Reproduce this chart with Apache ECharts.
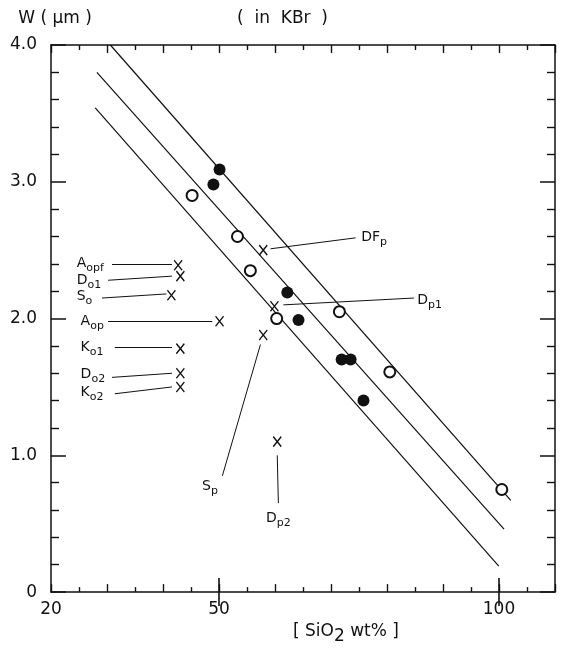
<!DOCTYPE html>
<html><head><meta charset="utf-8">
<script src="https://cdn.jsdelivr.net/npm/echarts@6/dist/echarts.min.js"></script>
<style>html,body{margin:0;padding:0;background:#fff}#c{width:570px;height:650px}</style>
</head><body><div id="c"></div>
<script>
// ---- data ----
const xTickLabels = [20, 50, 100];
const xMajorTicks = [50, 100];
const yTickLabels = [0, 1, 2, 3, 4];
const openCircles = [[45.2, 2.90], [53.3, 2.60], [55.6, 2.35], [60.3, 2.00], [71.5, 2.05], [80.5, 1.61], [100.5, 0.75]];
const filledCircles = [[50.1, 3.09], [49.0, 2.98], [62.2, 2.19], [64.2, 1.99], [71.9, 1.70], [73.5, 1.70], [75.8, 1.40]];
const crossNames = ['Aopf', 'Do1', 'So', 'Aop', 'Ko1', 'Do2', 'Ko2', 'DFp', 'Dp1', 'Sp', 'Dp2'];
const crossX = [42.7, 43.1, 41.5, 50.1, 43.1, 43.1, 43.1, 57.9, 59.9, 57.9, 60.4];
const crossY = [2.39, 2.31, 2.17, 1.98, 1.78, 1.60, 1.50, 2.50, 2.09, 1.88, 1.10];
const upperLine = [[30.6, 4.0], [102.1, 0.67]];
const middleLine = [[28.2, 3.80], [100.9, 0.46]];
const lowerLine = [[27.9, 3.54], [99.96, 0.19]];

// annotation texts: [main, subscript]
const annoText = [['A', 'opf'], ['D', 'o1'], ['S', 'o'], ['A', 'op'], ['K', 'o1'], ['D', 'o2'], ['K', 'o2'], ['DF', 'p'], ['D', 'p1'], ['S', 'p'], ['D', 'p2']];
// label anchor and leader line (data units)
const annoPos = [[24.5, 2.40], [24.5, 2.28], [24.5, 2.16], [25.2, 1.98], [25.2, 1.79], [25.2, 1.59], [25.2, 1.46], [75.3, 2.59], [85.3, 2.13], [48.4, 0.77], [60.6, 0.54]];
const annoCentered = [false, false, false, false, false, false, false, false, false, true, true];
const leaderFrom = [[30.9, 2.40], [30.2, 2.28], [29.1, 2.15], [30.2, 1.98], [31.4, 1.79], [30.9, 1.57], [31.4, 1.45], [59.2, 2.51], [61.5, 2.10], [57.4, 1.81], [60.4, 1.00]];
const leaderTo = [[41.6, 2.40], [41.6, 2.31], [40.6, 2.18], [48.8, 1.98], [41.6, 1.79], [41.6, 1.60], [41.6, 1.50], [74.4, 2.59], [84.8, 2.15], [50.6, 0.85], [60.6, 0.65]];

// ---- styling ----
const FONT = 'DejaVu Sans';
const INK = '#111';

function xAx(pos, labels) {
  return {
    type: 'value', position: pos, min: 20, max: 110, interval: 10,
    axisLine: { show: true, onZero: false, lineStyle: { color: INK, width: 1.5 } },
    axisTick: { show: true, inside: true, length: 8, lineStyle: { color: INK, width: 1.4 } },
    minorTick: { show: true, splitNumber: 2, length: 5, lineStyle: { color: INK, width: 1.4 } },
    axisLabel: { show: labels, customValues: xTickLabels, color: INK, fontFamily: FONT, fontSize: 17, margin: 9 },
    splitLine: { show: false }, minorSplitLine: { show: false }
  };
}
function xAxMajor(pos) {
  return {
    type: 'value', position: pos, min: 20, max: 110, interval: 10,
    axisLine: { show: false },
    axisTick: { show: true, inside: true, length: 14, customValues: xMajorTicks, lineStyle: { color: INK, width: 1.6 } },
    axisLabel: { show: false }, splitLine: { show: false }
  };
}
function yAx(pos, labels) {
  return {
    type: 'value', position: pos, min: 0, max: 4, interval: 1,
    axisLine: { show: true, onZero: false, lineStyle: { color: INK, width: 1.5 } },
    axisTick: { show: true, inside: true, length: 15, lineStyle: { color: INK, width: 1.5 } },
    minorTick: { show: true, splitNumber: 5, length: 8, lineStyle: { color: INK, width: 1.4 } },
    axisLabel: { show: labels, customValues: yTickLabels, color: INK, fontFamily: FONT, fontSize: 17, margin: 14,
      formatter: v => v === 0 ? '0' : v.toFixed(1) },
    splitLine: { show: false }, minorSplitLine: { show: false }
  };
}

const rich = {
  b: { fontFamily: FONT, fontSize: 14, color: INK },
  s: { fontFamily: FONT, fontSize: 11, color: INK, padding: [9, 0, 0, 0] }
};

const lineSeries = [upperLine, middleLine, lowerLine].map(d => ({
  type: 'line', data: d, symbol: 'none', silent: true, animation: false,
  lineStyle: { color: INK, width: 1.2, opacity: 1 }
}));

const annoData = annoText.map((t, i) => ({
  value: annoPos[i],
  label: {
    show: true,
    position: annoCentered[i] ? 'inside' : 'right',
    distance: 0,
    formatter: '{b|' + t[0] + '}{s|' + t[1] + '}',
    rich: rich
  }
}));

const option = {
  backgroundColor: '#fff',
  animation: false,
  title: {
    text: '(  in  KBr  )', left: 232, top: 5,
    textStyle: { fontFamily: FONT, fontSize: 17, fontWeight: 'normal', color: INK }
  },
  grid: { left: 51, right: 15, top: 45, bottom: 43, containLabel: false },
  xAxis: [xAx('bottom', true), xAxMajor('bottom'), xAx('top', false), xAxMajor('top')],
  yAxis: [
    Object.assign(yAx('left', true), {
      name: 'W ( µm )', nameLocation: 'end', nameGap: 18,
      nameTextStyle: { fontFamily: FONT, fontSize: 17, color: INK, padding: [0, 0, 0, 8] }
    }),
    yAx('right', false)
  ],
  series: [
    ...lineSeries,
    {
      type: 'scatter', data: openCircles, symbol: 'circle', symbolSize: 11,
      itemStyle: { color: '#fff', borderColor: INK, borderWidth: 2, opacity: 1 }, z: 4
    },
    {
      type: 'scatter', data: filledCircles, symbol: 'circle', symbolSize: 12,
      itemStyle: { color: INK, opacity: 1 }, z: 4
    },
    {
      type: 'scatter', data: crossX.map((x, i) => ({ name: crossNames[i], value: [x, crossY[i]] })),
      symbol: 'path://M0,0L10,12M10,0L0,12', symbolSize: [8, 10], symbolKeepAspect: false,
      itemStyle: { color: 'rgba(0,0,0,0)', borderColor: INK, borderWidth: 1.4, opacity: 1 }, z: 4
    },
    {
      type: 'scatter', data: annoData, symbolSize: 1,
      itemStyle: { color: 'rgba(0,0,0,0)', opacity: 1 }, z: 5,
      markLine: {
        silent: true, symbol: ['none', 'none'], animation: false,
        lineStyle: { color: INK, width: 1, type: 'solid', opacity: 1 },
        label: { show: false },
        data: leaderFrom.map((f, i) => [{ coord: f }, { coord: leaderTo[i] }])
      }
    }
  ]
};

// x-axis title with subscript
option.xAxis[0].name = '{t|[ SiO}{s|2}{t| wt% ]}';
option.xAxis[0].nameLocation = 'middle';
option.xAxis[0].nameGap = 24;
option.xAxis[0].nameTextStyle = {
  padding: [0, 0, 0, 86],
  rich: {
    t: { fontFamily: FONT, fontSize: 17, color: INK },
    s: { fontFamily: FONT, fontSize: 17, color: INK, padding: [10, 0, 0, 0] }
  }
};

const chart = echarts.init(document.getElementById('c'), null, { renderer: 'canvas' });
chart.setOption(option);
</script>
</body></html>
